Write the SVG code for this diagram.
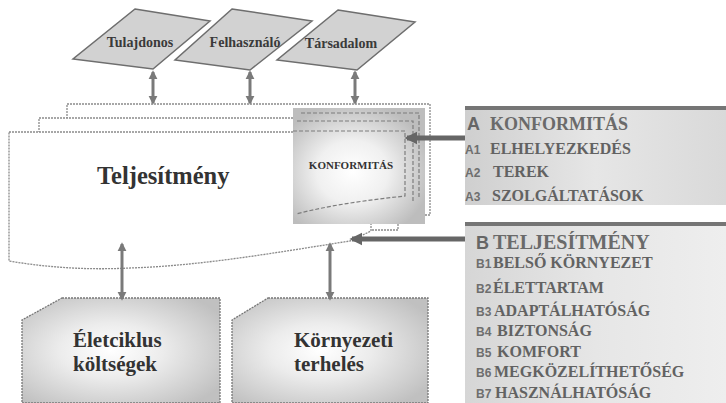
<svg xmlns="http://www.w3.org/2000/svg" width="726" height="403" viewBox="0 0 726 403">
<defs>
<style>
.para{fill:#d2d2d2;stroke:#6e6e6e;stroke-width:1.5}
.doc{fill:#fff;stroke:#8a8a8a;stroke-width:1.3;stroke-dasharray:2 1}
.idash{fill:none;stroke:#7d7d7d;stroke-width:1.2;stroke-dasharray:4 2}
.ser{font-family:"Liberation Serif","Times New Roman",serif;font-weight:bold}
.san{font-family:"Liberation Sans",Arial,sans-serif;font-weight:bold}
.plabel{font-size:14px;fill:#3a3a3a;text-anchor:middle}
.big{font-size:21px;fill:#333}
.item{font-size:16px;fill:#626262}
.lbl{font-size:12px;fill:#6e6e6e}
.varr{stroke:#7a7a7a;stroke-width:3;fill:none}
.harr{stroke:#666;stroke-width:5;fill:none}
.bar{fill:#757575}
</style>
<marker id="ah" viewBox="0 0 10 10" refX="8" refY="5" markerUnits="userSpaceOnUse" markerWidth="9" markerHeight="10" orient="auto-start-reverse">
<path d="M0,0 L10,5 L0,10 z" fill="#7a7a7a"/>
</marker>
<marker id="ahb" viewBox="0 0 10 10" refX="8" refY="5" markerUnits="userSpaceOnUse" markerWidth="13" markerHeight="14" orient="auto">
<path d="M0,0 L10,5 L0,10 z" fill="#666"/>
</marker>
<radialGradient id="glow" cx="0.45" cy="0.55" r="0.6">
<stop offset="0" stop-color="#ffffff"/>
<stop offset="0.45" stop-color="#f0f0f0"/>
<stop offset="1" stop-color="#bdbdbd"/>
</radialGradient>
<radialGradient id="glowB" cx="0.45" cy="0.5" r="0.65">
<stop offset="0" stop-color="#ffffff"/>
<stop offset="0.4" stop-color="#ececec"/>
<stop offset="1" stop-color="#c0c0c0"/>
</radialGradient>
<linearGradient id="panA" x1="0" y1="0" x2="1" y2="0">
<stop offset="0" stop-color="#cfcfcf"/>
<stop offset="0.5" stop-color="#e6e6e6"/>
<stop offset="1" stop-color="#d9d9d9"/>
</linearGradient>
<linearGradient id="panB" x1="0" y1="0" x2="1" y2="0">
<stop offset="0" stop-color="#d6d6d6"/>
<stop offset="0.5" stop-color="#e6e6e6"/>
<stop offset="1" stop-color="#eeeeee"/>
</linearGradient>
</defs>
<rect width="726" height="403" fill="#fff"/>

<g id="tulajdonos">
<polygon class="para" points="135,9 210,21 153,69 73,59"/>
<text class="ser plabel" x="140" y="47">Tulajdonos</text>
</g>
<g id="felhasznalo">
<polygon class="para" points="232,9 312,21 250,70 175,60"/>
<text class="ser plabel" x="245" y="47">Felhasználó</text>
</g>
<g id="tarsadalom">
<polygon class="para" points="338,10 415,22 357,70 277,60"/>
<text class="ser plabel" x="341" y="48">Társadalom</text>
</g>

<g id="teljesitmeny">
<rect class="doc" x="67" y="104" width="363" height="111"/>
<rect class="doc" x="39" y="118" width="359" height="112"/>
<path class="doc" d="M9,132 H371 V231 L350,241 C 280,252 200,266 130,268 C 90,270 50,268 9,261 Z"/>
<text class="ser" x="97" y="184" font-size="24.5" fill="#333">Teljesítmény</text>
</g>

<g id="konformitas">
<rect x="293" y="108" width="132" height="116" fill="url(#glow)"/>
<path class="idash" d="M301,113 H419 V198"/>
<path class="idash" d="M297,121 H413 V203"/>
<path class="idash" d="M293,131 H405 V196 C 370,200 335,204 296,214"/>
<text class="ser" x="351" y="169" font-size="11" fill="#333" text-anchor="middle">KONFORMITÁS</text>
</g>

<g id="eletciklus">
<path d="M62,298 H220 V403 H22 V320 Z" fill="url(#glowB)" stroke="#777" stroke-width="1.3" stroke-dasharray="2 1"/>
<text class="ser big" x="73" y="347">Életciklus</text>
<text class="ser big" x="73" y="371">költségek</text>
</g>
<g id="kornyezeti">
<path d="M268,298 H428 V403 H232 V320 Z" fill="url(#glowB)" stroke="#777" stroke-width="1.3" stroke-dasharray="2 1"/>
<text class="ser big" x="294" y="347">Környezeti</text>
<text class="ser big" x="294" y="371">terhelés</text>
</g>

<g id="panelA">
<rect x="465" y="110" width="261" height="95" fill="url(#panA)"/>
<rect class="bar" x="465" y="106" width="261" height="4"/>
<text x="467" y="130"><tspan class="san" font-size="18" fill="#666">A</tspan><tspan class="ser" font-size="18" fill="#6a6a6a" x="490">KONFORMITÁS</tspan></text>
<text class="san lbl" x="465" y="154">A1</text><text class="ser item" x="490" y="154">ELHELYEZKEDÉS</text>
<text class="san lbl" x="465" y="177">A2</text><text class="ser item" x="493" y="177">TEREK</text>
<text class="san lbl" x="465" y="201">A3</text><text class="ser item" x="492" y="201">SZOLGÁLTATÁSOK</text>
</g>

<g id="panelB">
<rect x="465" y="226" width="261" height="177" fill="url(#panB)"/>
<rect class="bar" x="465" y="222" width="261" height="4"/>
<text x="476" y="249"><tspan class="san" font-size="18" fill="#666">B</tspan><tspan class="ser" font-size="20" fill="#6a6a6a" x="493">TELJESÍTMÉNY</tspan></text>
<text class="san lbl" x="476" y="268">B1</text><text class="ser item" x="493" y="268">BELSŐ KÖRNYEZET</text>
<text class="san lbl" x="476" y="293">B2</text><text class="ser item" x="493" y="293">ÉLETTARTAM</text>
<text class="san lbl" x="476" y="316">B3</text><text class="ser item" x="494" y="316">ADAPTÁLHATÓSÁG</text>
<text class="san lbl" x="476" y="336">B4</text><text class="ser item" x="497" y="336">BIZTONSÁG</text>
<text class="san lbl" x="476" y="357">B5</text><text class="ser item" x="497" y="357">KOMFORT</text>
<text class="san lbl" x="476" y="377">B6</text><text class="ser item" x="494" y="377">MEGKÖZELÍTHETŐSÉG</text>
<text class="san lbl" x="476" y="398">B7</text><text class="ser item" x="495" y="398">HASZNÁLHATÓSÁG</text>
</g>

<g id="connectors">
<line class="varr" x1="153" y1="72" x2="153" y2="103" marker-start="url(#ah)" marker-end="url(#ah)"/>
<line class="varr" x1="250" y1="72" x2="250" y2="103" marker-start="url(#ah)" marker-end="url(#ah)"/>
<line class="varr" x1="355" y1="72" x2="355" y2="103" marker-start="url(#ah)" marker-end="url(#ah)"/>
<line class="varr" x1="122" y1="244" x2="122" y2="299" marker-start="url(#ah)" marker-end="url(#ah)"/>
<line class="varr" x1="330" y1="244" x2="330" y2="299" marker-start="url(#ah)" marker-end="url(#ah)"/>
<line class="harr" x1="465" y1="138" x2="407" y2="138" marker-end="url(#ahb)"/>
<line class="harr" x1="465" y1="239" x2="352" y2="239" marker-end="url(#ahb)"/>
</g>
</svg>
